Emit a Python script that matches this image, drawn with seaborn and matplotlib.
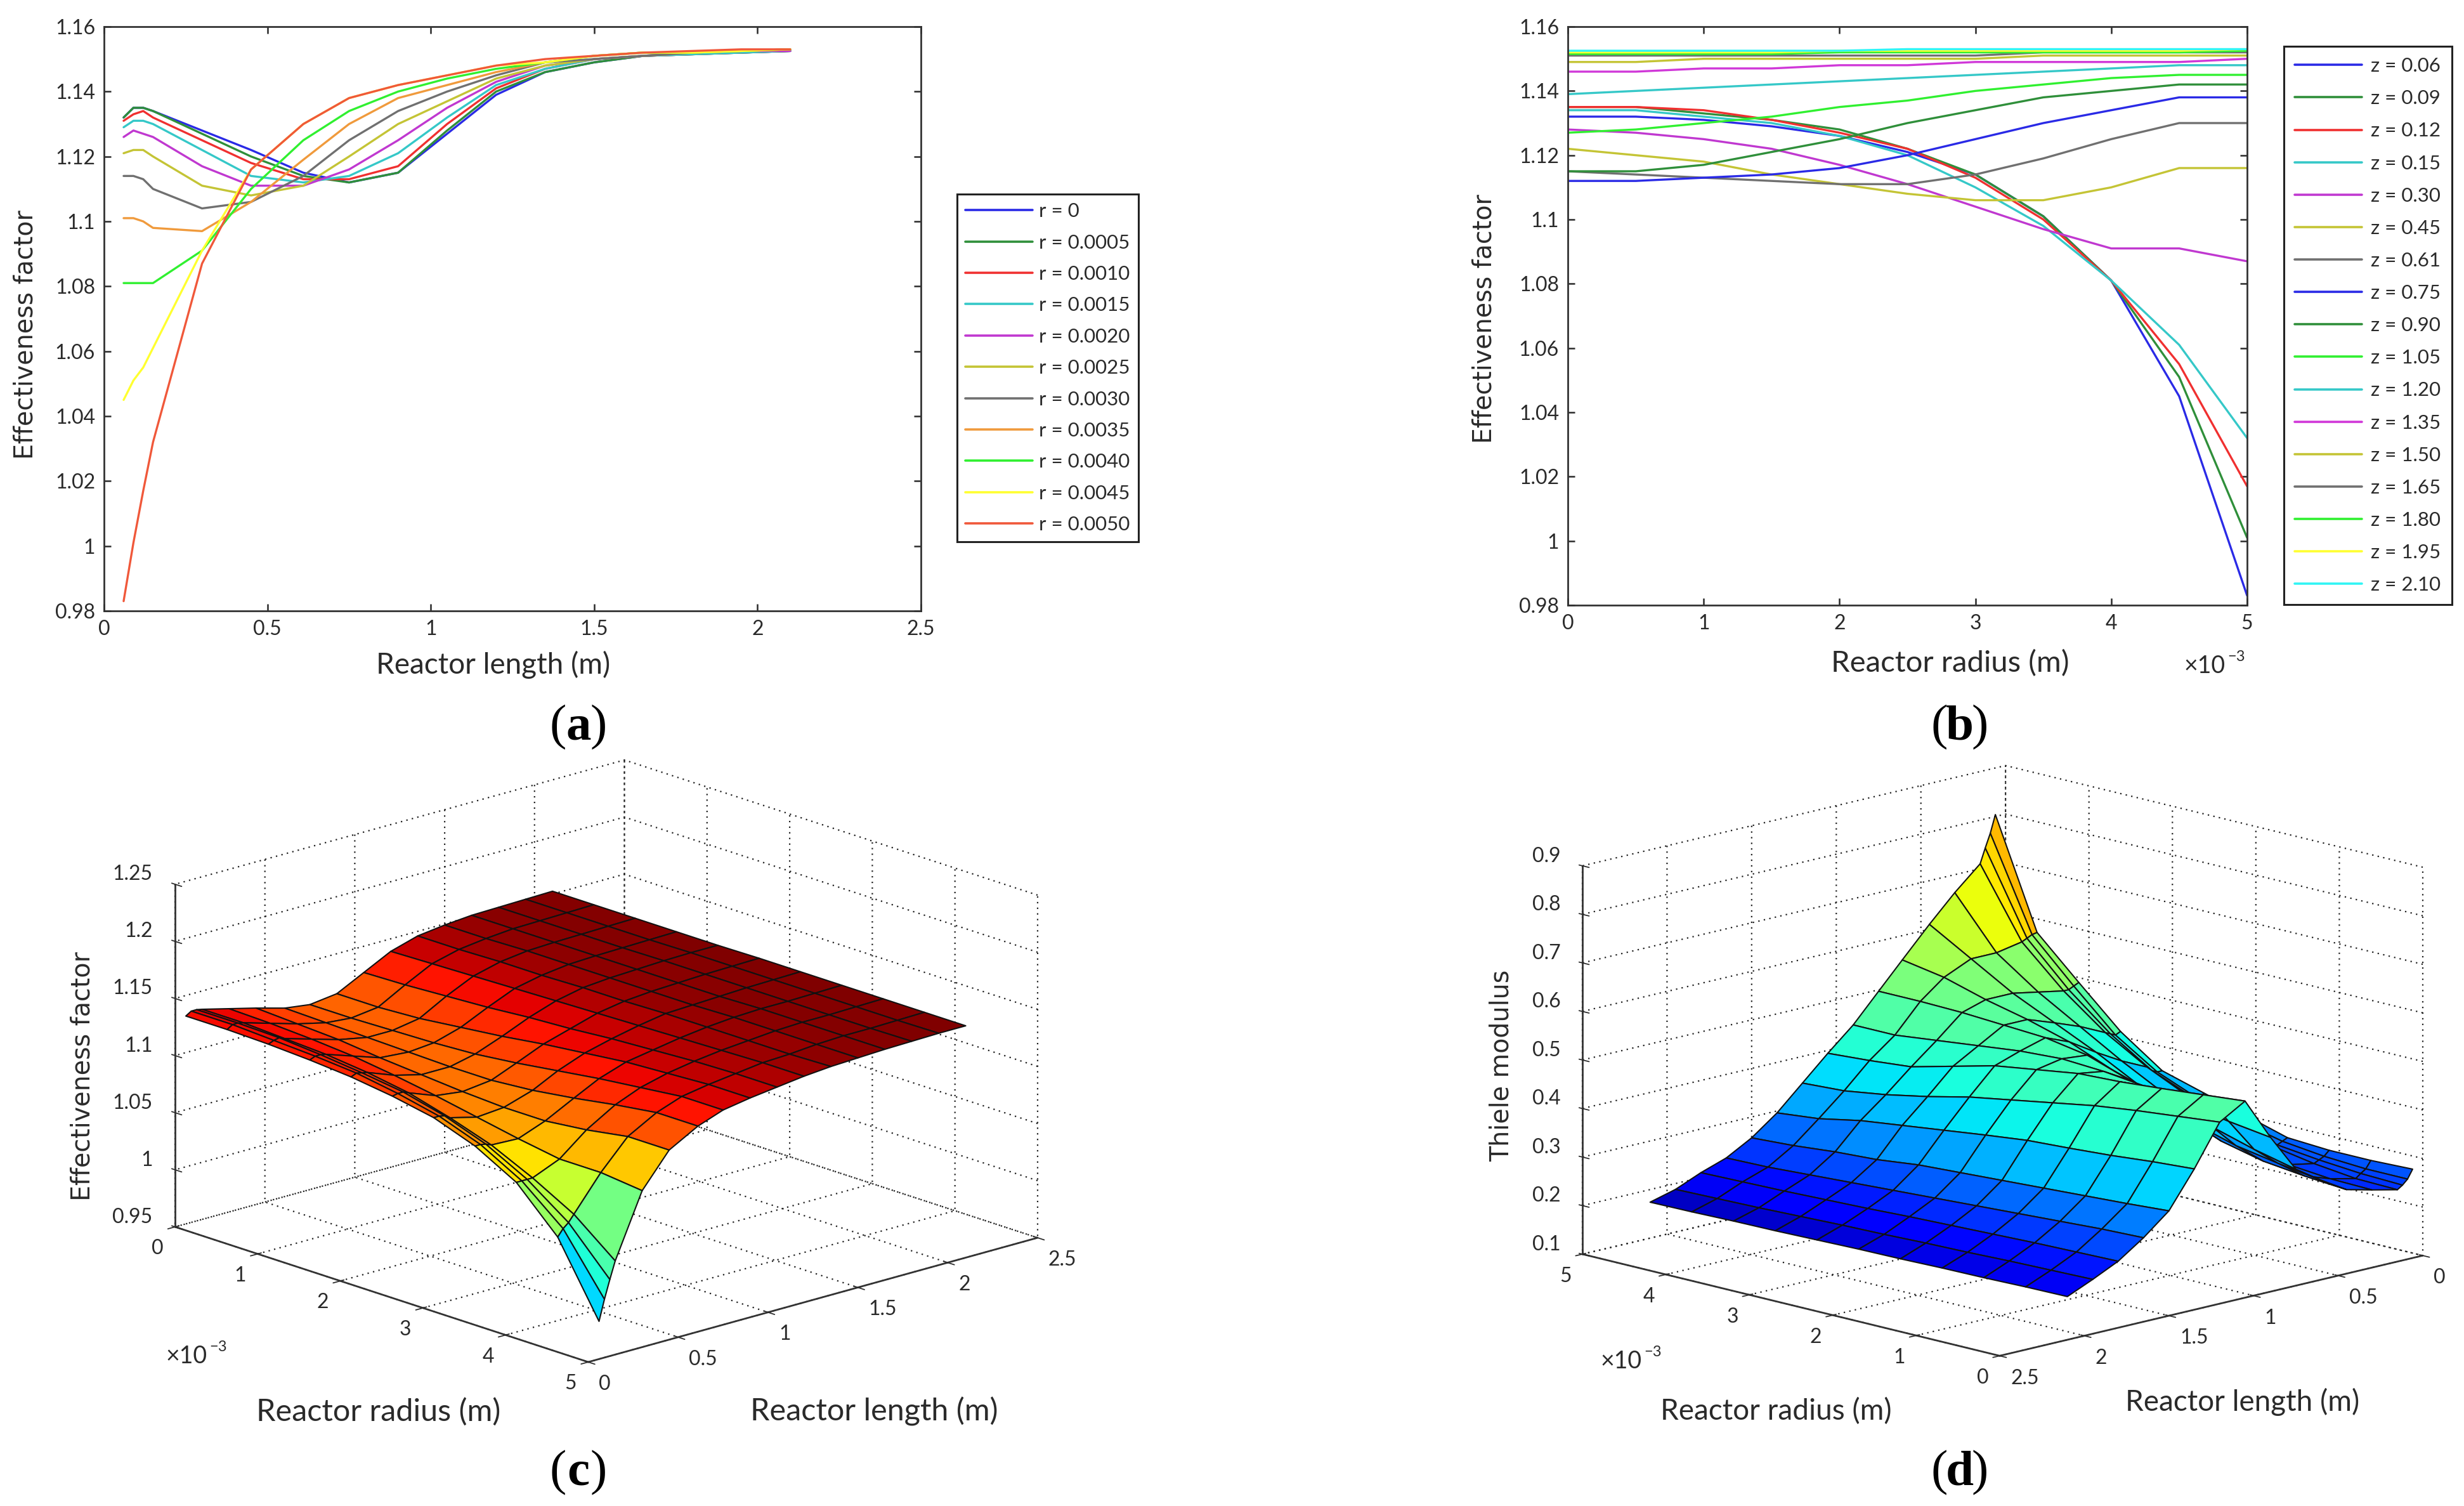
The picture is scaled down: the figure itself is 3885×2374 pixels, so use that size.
import matplotlib
matplotlib.use("Agg")
import matplotlib.pyplot as plt
import numpy as np
import pandas as pd
import seaborn as sns
from matplotlib.colors import PowerNorm
from mpl_toolkits.mplot3d import proj3d

W, H = 3885, 2374

# reactor length and radius grid
length_m = [0.06, 0.09, 0.12, 0.15, 0.30, 0.45, 0.61, 0.75, 0.90, 1.05, 1.20, 1.35, 1.50, 1.65, 1.80, 1.95, 2.10]
radius_m = [0, 0.0005, 0.0010, 0.0015, 0.0020, 0.0025, 0.0030, 0.0035, 0.0040, 0.0045, 0.0050]
r_labels = ['r = 0', 'r = 0.0005', 'r = 0.0010', 'r = 0.0015', 'r = 0.0020', 'r = 0.0025',
            'r = 0.0030', 'r = 0.0035', 'r = 0.0040', 'r = 0.0045', 'r = 0.0050']
z_labels = ['z = 0.06', 'z = 0.09', 'z = 0.12', 'z = 0.15', 'z = 0.30', 'z = 0.45', 'z = 0.61', 'z = 0.75', 'z = 0.90',
            'z = 1.05', 'z = 1.20', 'z = 1.35', 'z = 1.50', 'z = 1.65', 'z = 1.80', 'z = 1.95', 'z = 2.10']

# effectiveness factor, one row per length, one column per radius
eta = [
    [1.132, 1.132, 1.131, 1.129, 1.126, 1.121, 1.114, 1.101, 1.081, 1.045, 0.983],
    [1.135, 1.135, 1.133, 1.131, 1.128, 1.122, 1.114, 1.101, 1.081, 1.051, 1.001],
    [1.135, 1.135, 1.134, 1.131, 1.127, 1.122, 1.113, 1.100, 1.081, 1.055, 1.017],
    [1.134, 1.134, 1.132, 1.130, 1.126, 1.120, 1.110, 1.098, 1.081, 1.061, 1.032],
    [1.128, 1.127, 1.125, 1.122, 1.117, 1.111, 1.104, 1.097, 1.091, 1.091, 1.087],
    [1.122, 1.120, 1.118, 1.114, 1.111, 1.108, 1.106, 1.106, 1.110, 1.116, 1.116],
    [1.115, 1.114, 1.113, 1.112, 1.111, 1.111, 1.114, 1.119, 1.125, 1.130, 1.130],
    [1.112, 1.112, 1.113, 1.114, 1.116, 1.120, 1.125, 1.130, 1.134, 1.138, 1.138],
    [1.115, 1.115, 1.117, 1.121, 1.125, 1.130, 1.134, 1.138, 1.140, 1.142, 1.142],
    [1.127, 1.128, 1.130, 1.132, 1.135, 1.137, 1.140, 1.142, 1.144, 1.145, 1.145],
    [1.139, 1.140, 1.141, 1.142, 1.143, 1.144, 1.145, 1.146, 1.147, 1.148, 1.148],
    [1.146, 1.146, 1.147, 1.147, 1.148, 1.148, 1.149, 1.149, 1.149, 1.149, 1.150],
    [1.149, 1.149, 1.150, 1.150, 1.150, 1.150, 1.150, 1.151, 1.151, 1.151, 1.151],
    [1.151, 1.151, 1.151, 1.151, 1.151, 1.151, 1.151, 1.152, 1.152, 1.152, 1.152],
    [1.1515, 1.1515, 1.1515, 1.1515, 1.152, 1.152, 1.152, 1.152, 1.152, 1.152, 1.1525],
    [1.152, 1.152, 1.152, 1.152, 1.1525, 1.1525, 1.1525, 1.1525, 1.1525, 1.1525, 1.153],
    [1.1525, 1.1525, 1.1525, 1.1525, 1.1525, 1.153, 1.153, 1.153, 1.153, 1.153, 1.153],
]

# Thiele modulus on the same grid
thiele = [
    [0.283, 0.280, 0.280, 0.285, 0.310, 0.335, 0.360, 0.420, 0.500, 0.582, 0.804],
    [0.265, 0.265, 0.270, 0.280, 0.300, 0.325, 0.360, 0.415, 0.495, 0.580, 0.768],
    [0.255, 0.258, 0.265, 0.275, 0.300, 0.330, 0.365, 0.420, 0.490, 0.575, 0.740],
    [0.248, 0.250, 0.260, 0.275, 0.300, 0.335, 0.375, 0.425, 0.490, 0.570, 0.710],
    [0.260, 0.262, 0.270, 0.285, 0.315, 0.355, 0.400, 0.450, 0.500, 0.560, 0.663],
    [0.273, 0.280, 0.290, 0.310, 0.345, 0.385, 0.430, 0.470, 0.510, 0.560, 0.610],
    [0.307, 0.320, 0.335, 0.360, 0.395, 0.430, 0.465, 0.490, 0.510, 0.535, 0.550],
    [0.340, 0.360, 0.385, 0.410, 0.440, 0.470, 0.485, 0.490, 0.495, 0.497, 0.497],
    [0.418, 0.430, 0.445, 0.460, 0.470, 0.475, 0.470, 0.460, 0.450, 0.440, 0.440],
    [0.505, 0.497, 0.489, 0.482, 0.478, 0.465, 0.452, 0.430, 0.408, 0.400, 0.394],
    [0.474, 0.465, 0.456, 0.445, 0.430, 0.415, 0.400, 0.380, 0.363, 0.350, 0.345],
    [0.390, 0.384, 0.376, 0.370, 0.365, 0.355, 0.344, 0.333, 0.322, 0.305, 0.296],
    [0.316, 0.310, 0.305, 0.300, 0.295, 0.290, 0.285, 0.275, 0.270, 0.262, 0.257],
    [0.273, 0.270, 0.265, 0.260, 0.255, 0.250, 0.245, 0.240, 0.235, 0.230, 0.228],
    [0.237, 0.235, 0.233, 0.230, 0.227, 0.224, 0.220, 0.217, 0.214, 0.212, 0.210],
    [0.212, 0.210, 0.208, 0.205, 0.203, 0.200, 0.198, 0.195, 0.192, 0.190, 0.188],
    [0.189, 0.188, 0.186, 0.185, 0.183, 0.182, 0.180, 0.178, 0.177, 0.175, 0.174],
]

r_colors = ['#2a2ae6', '#2f8f3a', '#f03030', '#35c8c8', '#c038d0', '#c4c435',
            '#707070', '#f09a3c', '#30f030', '#ffff30', '#f0583a']
z_colors = ['#2a2ae6', '#2f8f3a', '#f03030', '#35c8c8', '#c038d0', '#c4c435', '#707070', '#2a2ae6', '#2f8f3a',
            '#30f030', '#35c8c8', '#d038d8', '#c4c435', '#707070', '#30f030', '#ffff30', '#30f5f5']

sns.set_theme(style="white")
plt.rcParams['font.family'] = ['Lato', 'DejaVu Sans']
plt.rcParams['axes.edgecolor'] = '#333333'
plt.rcParams['axes.linewidth'] = 2.0

fig = plt.figure(figsize=(W / 100, H / 100), dpi=100)
TEXT = '#2a2a2a'


def add_box(left, top, right, bottom):
    return fig.add_axes([left / W, 1 - bottom / H, (right - left) / W, (bottom - top) / H])


def put_text(x, y, s, size, **kw):
    kw.setdefault('color', TEXT)
    fig.text(x / W, 1 - y / H, s, fontsize=size, ha=kw.pop('ha', 'center'), va=kw.pop('va', 'center'), **kw)


def line_panel(ax, df, x, hue, order, colors, anchor, labelspacing, borderpad, textpad):
    sns.lineplot(data=df, x=x, y='eta', hue=hue, hue_order=order, palette=colors,
                 estimator=None, sort=False, linewidth=2.4, ax=ax)
    ax.set_ylim(0.98, 1.16)
    ax.set_yticks(np.arange(0.98, 1.161, 0.02), ['0.98', '1', '1.02', '1.04', '1.06', '1.08', '1.1', '1.12', '1.14', '1.16'])
    ax.tick_params(direction='in', top=True, right=True, bottom=True, left=True, length=8, width=1.8,
                   labelsize=23, colors=TEXT, pad=10)
    ax.set_xlabel('')
    ax.set_ylabel('')
    leg = ax.legend(loc='upper left', bbox_to_anchor=(anchor[0] / W, 1 - anchor[1] / H),
                    bbox_transform=fig.transFigure, fontsize=22.5, frameon=True, fancybox=False,
                    framealpha=1, edgecolor='#222222', handlelength=3.4, labelspacing=labelspacing,
                    borderaxespad=0, borderpad=borderpad, handletextpad=textpad, labelcolor=TEXT)
    leg.get_frame().set_linewidth(2.2)
    for h in leg.get_lines():
        h.set_linewidth(2.6)


# panels a and b are slices of the same table
frame = pd.DataFrame(eta, columns=r_labels).assign(z=length_m, zl=z_labels)
frame = frame.melt(id_vars=['z', 'zl'], value_vars=r_labels, var_name='rl', value_name='eta')
frame['r'] = frame['rl'].map(dict(zip(r_labels, radius_m)))

ax_a = add_box(164, 42, 1452, 963)
line_panel(ax_a, frame, 'z', 'rl', r_labels, r_colors, (1509, 306), 0.685, 0.42, 0.3)
ax_a.set_xlim(0, 2.5)
ax_a.set_xticks([0, 0.5, 1, 1.5, 2, 2.5], ['0', '0.5', '1', '1.5', '2', '2.5'])

ax_b = add_box(2472, 42, 3543, 954)
line_panel(ax_b, frame, 'r', 'zl', z_labels, z_colors, (3601, 73), 0.74, 0.55, 0.45)
ax_b.set_xlim(0, 0.005)
ax_b.set_xticks([0, 0.001, 0.002, 0.003, 0.004, 0.005], ['0', '1', '2', '3', '4', '5'])


def surface_panel(values, elev, azim, z_range, z_ticks, z_names, norm, floor, targets, aspect_z):
    ax = fig.add_axes([0.1, 0.1, 1000 / W, 1000 / H], projection='3d', computed_zorder=False)
    ax.patch.set_alpha(0)
    ax.set_proj_type('ortho')
    ax.view_init(elev=elev, azim=azim)
    ax.set_box_aspect((1, 1, aspect_z))
    # radius runs high to low so each face takes its colour from the low z, high r corner
    R, Z = np.meshgrid(radius_m[::-1], length_m)
    V = np.array(values)[:, ::-1]
    faces = plt.get_cmap('jet')(norm(V))
    ax.plot_surface(R, Z, V, rstride=1, cstride=1, facecolors=faces,
                    edgecolor='#111111', linewidth=1.5, shade=False, antialiased=True)
    ax.set_xlim(0, 0.005)
    ax.set_ylim(0, 2.5)
    ax.set_zlim(*z_range)
    ax.set_xticks([0, 0.001, 0.002, 0.003, 0.004, 0.005], ['0', '1', '2', '3', '4', '5'], ha='right')
    ax.set_yticks([0, 0.5, 1, 1.5, 2, 2.5], ['0', '0.5', '1', '1.5', '2', '2.5'], ha='left')
    ax.set_zticks(z_ticks, z_names, ha='right', va='bottom')
    for axis in (ax.xaxis, ax.yaxis, ax.zaxis):
        axis.pane.set_facecolor((1, 1, 1, 0))
        axis.pane.set_edgecolor((1, 1, 1, 0))
        axis._axinfo['grid'].update(color='#222222', linestyle=(0, (1, 3)), linewidth=1.6)
        axis._axinfo['axisline']['color'] = '#333333'
        axis.line.set_linewidth(2.0)
        axis.line.set_color('#333333')
    ax.zaxis._axinfo['juggled'] = (1, 2, 0)
    ax.tick_params(labelsize=23, colors=TEXT, pad=6)

    # scale and shift the square axes so the floor corners land where they should
    fig.canvas.draw()
    M = ax.get_proj()
    (lx, ly, _), (rx, ry, _) = [proj3d.proj_transform(cx, cy, z_range[0], M) for cx, cy in floor]
    a = ax.transData.transform([(lx, ly), (rx, ry)])
    side = 1000 * (targets[1][0] - targets[0][0]) / (a[1][0] - a[0][0])
    ax.set_position([0, 0, side / W, side / H])
    a = ax.transData.transform([(lx, ly)])[0]
    ax.set_position([(targets[0][0] - a[0]) / W, (H - targets[0][1] - a[1]) / H, side / W, side / H])
    return ax


ax_c = surface_panel(
    eta, 17.5, -42.6, (0.95, 1.25), [0.95, 1, 1.05, 1.1, 1.15, 1.2, 1.25],
    ['0.95', '1', '1.05', '1.1', '1.15', '1.2', '1.25'], PowerNorm(2.3, vmin=0.7, vmax=1.153),
    ((0, 0), (0.005, 2.5)), ((276, 1934), (1636, 1950)), 566 / 962)

ax_d = surface_panel(
    thiele, 13.9, 135.4, (0.1, 0.9), [0.1, 0.2, 0.3, 0.4, 0.5, 0.6, 0.7, 0.8, 0.9],
    ['0.1', '0.2', '0.3', '0.4', '0.5', '0.6', '0.7', '0.8', '0.9'], PowerNorm(0.7, vmin=0.17, vmax=1.2),
    ((0.005, 2.5), (0, 0)), ((2495, 1977), (3820, 1975)), 630 / 936)

# axis titles
put_text(778, 1048, 'Reactor length (m)', 33)
put_text(3075, 1046, 'Reactor radius (m)', 34)
put_text(597, 2225, 'Reactor radius (m)', 35)
put_text(1378, 2225, 'Reactor length (m)', 35)
put_text(2800, 2225, 'Reactor radius (m)', 33)
put_text(3536, 2210, 'Reactor length (m)', 33)
for x, y, s in [(41, 528, 'Effectiveness factor'), (2341, 503, 'Effectiveness factor'),
                (131, 1697, 'Effectiveness factor'), (2368, 1680, 'Thiele modulus')]:
    put_text(x, y, s, 28.5, rotation=90, family='DejaVu Sans')

# shared power of ten on the radius axes
for x, y in [(3492, 1050), (310, 2138), (2572, 2146)]:
    put_text(x - 16, y, '×10', 27)
    put_text(x + 34, y - 15, '−3', 17)

# panel letters
for x, y, s in [(912, 1147, 'a'), (3090, 1147, 'b'), (912, 2322, 'c'), (3090, 2322, 'd')]:
    put_text(x - 32, y, '(', 57, family='Liberation Serif', color='black')
    put_text(x, y, s, 57, family='Liberation Serif', weight='bold', color='black')
    put_text(x + 32, y, ')', 57, family='Liberation Serif', color='black')

fig.savefig('out.png', dpi=100)
